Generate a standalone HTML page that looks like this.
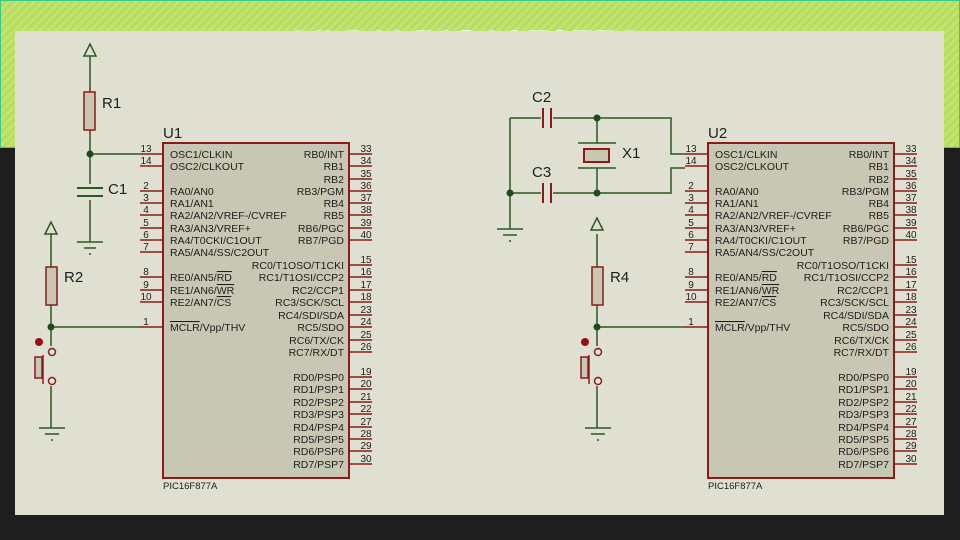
<!DOCTYPE html>
<html><head><meta charset="utf-8"><style>
html,body{margin:0;padding:0;width:960px;height:540px;overflow:hidden;background:#1e1e1e}
svg{display:block}
text{font-family:"Liberation Sans",sans-serif;fill:#1e1e1e}
</style></head><body>
<svg width="960" height="540" viewBox="0 0 960 540" xmlns="http://www.w3.org/2000/svg">
<defs>
<pattern id="st" width="6" height="6" patternUnits="userSpaceOnUse" patternTransform="rotate(45)">
<rect width="6" height="6" fill="#b6dc62"/><rect width="3" height="6" fill="#c2e470"/>
</pattern>
</defs>
<rect x="0" y="0" width="960" height="540" fill="#1e1e1e"/>
<rect x="0" y="0" width="960" height="148" fill="url(#st)"/>
<rect x="0.5" y="0.5" width="959" height="147" fill="none" stroke="#3cc88c" stroke-width="1"/>
<text x="470" y="58" font-size="40" font-weight="bold" text-anchor="middle" style="fill:#ffffff">VI ĐK PIC16F877A</text>
<rect x="15" y="31" width="929" height="484" fill="#dfdfd2"/>

<g stroke-width="1.5" fill="none">
<path d="M90 56 V88 M90 134 V154 H140 M90 154 V184 M90 200 V242" stroke="#2a5a22"/>
<path d="M90 88 V92 M90 130 V134" stroke="#8b1a1a"/>
<polygon points="90,44 84,56 96,56" stroke="#2a5a22"/>
<rect x="84" y="92" width="11" height="38" fill="#c9c7b2" stroke="#8b1a1a"/>
<path d="M77 188 H103 M77 196 H103" stroke="#2a5a22" stroke-width="2"/>
<path d="M77 242 H103 M84 248 H96" stroke="#2a5a22"/>
<path d="M89 254 H91" stroke="#2a5a22"/>
<path d="M51 234 V267 M51 305 V327 H140 M51 327 V346 M51 386 V428" stroke="#2a5a22"/>
<polygon points="51,222 45,234 57,234" stroke="#2a5a22"/>
<rect x="46" y="267" width="11" height="38" fill="#c9c7b2" stroke="#8b1a1a"/>
<circle cx="52" cy="352" r="3.5" stroke="#8b1a1a" fill="#e8e6da"/>
<circle cx="52" cy="381" r="3.5" stroke="#8b1a1a" fill="#e8e6da"/>
<path d="M43 355 V384" stroke="#8b1a1a"/>
<rect x="35" y="357" width="7" height="21" fill="#c9c7b2" stroke="#8b1a1a"/>
<path d="M39 428 H65 M45 434 H59 M51 440 H53" stroke="#2a5a22"/>

<path d="M510 118 V229 M510 118 H541 M553 118 H671 V154 H685 M597 118 V143 M597 168 V193 M510 193 H541 M553 193 H671 V168 H685" stroke="#2a5a22"/>
<path d="M543 108 V128 M551 108 V128 M543 183 V203 M551 183 V203" stroke="#8b1a1a" stroke-width="2"/>
<path d="M578 143 H616 M578 168 H616" stroke="#2a5a22" stroke-width="1.5"/>
<rect x="584" y="149" width="25" height="13" fill="#c9c7b2" stroke="#8b1a1a" stroke-width="2"/>
<path d="M497 229 H523 M503 235 H517 M509 241 H511" stroke="#2a5a22"/>
<path d="M597 234 V267 M597 305 V327 H685 M597 327 V346 M597 386 V428" stroke="#2a5a22"/>
<polygon points="597,218 591,230 603,230" stroke="#2a5a22"/>
<rect x="592" y="267" width="11" height="38" fill="#c9c7b2" stroke="#8b1a1a"/>
<circle cx="598" cy="352" r="3.5" stroke="#8b1a1a" fill="#e8e6da"/>
<circle cx="598" cy="381" r="3.5" stroke="#8b1a1a" fill="#e8e6da"/>
<path d="M589 355 V384" stroke="#8b1a1a"/>
<rect x="581" y="357" width="7" height="21" fill="#c9c7b2" stroke="#8b1a1a"/>
<path d="M585 428 H611 M591 434 H605 M597 440 H599" stroke="#2a5a22"/>
</g>
<g fill="#1f4a1a">
<circle cx="90" cy="154" r="3.5"/><circle cx="51" cy="327" r="3.5"/>
<circle cx="597" cy="118" r="3.5"/><circle cx="510" cy="193" r="3.5"/><circle cx="597" cy="193" r="3.5"/><circle cx="597" cy="327" r="3.5"/>
</g>
<circle cx="39" cy="342" r="4" fill="#9a1010"/><circle cx="585" cy="342" r="4" fill="#9a1010"/>

<g font-size="15">
<text x="102" y="108">R1</text><text x="108" y="194">C1</text><text x="64" y="282">R2</text>
<text x="532" y="102">C2</text><text x="532" y="177">C3</text><text x="622" y="158">X1</text><text x="610" y="282">R4</text>
<text x="163" y="138">U1</text><text x="708" y="138">U2</text>
</g>

<g>
<rect x="163" y="143" width="186" height="335" fill="#c8c7b3" stroke="#8b1a1a" stroke-width="2"/>
<g stroke="#8b1a1a" stroke-width="1.5">
<path d="M140 154H163M140 166H163M140 191H163M140 203H163M140 215H163M140 228H163M140 240H163M140 252H163M140 277H163M140 290H163M140 302H163M140 327H163"/>
<path d="M349 154H372M349 166H372M349 179H372M349 191H372M349 203H372M349 215H372M349 228H372M349 240H372M349 265H372M349 277H372M349 290H372M349 302H372M349 315H372M349 327H372M349 340H372M349 352H372M349 377H372M349 389H372M349 402H372M349 414H372M349 427H372M349 439H372M349 451H372M349 464H372"/>
</g>
<g font-size="10" text-anchor="middle">
<text x="146" y="152">13</text><text x="146" y="164">14</text><text x="146" y="189">2</text><text x="146" y="201">3</text><text x="146" y="213">4</text><text x="146" y="226">5</text><text x="146" y="238">6</text><text x="146" y="250">7</text><text x="146" y="275">8</text><text x="146" y="288">9</text><text x="146" y="300">10</text><text x="146" y="325">1</text>
<text x="366" y="152">33</text><text x="366" y="164">34</text><text x="366" y="177">35</text><text x="366" y="189">36</text><text x="366" y="201">37</text><text x="366" y="213">38</text><text x="366" y="226">39</text><text x="366" y="238">40</text><text x="366" y="263">15</text><text x="366" y="275">16</text><text x="366" y="288">17</text><text x="366" y="300">18</text><text x="366" y="313">23</text><text x="366" y="325">24</text><text x="366" y="338">25</text><text x="366" y="350">26</text><text x="366" y="375">19</text><text x="366" y="387">20</text><text x="366" y="400">21</text><text x="366" y="412">22</text><text x="366" y="425">27</text><text x="366" y="437">28</text><text x="366" y="449">29</text><text x="366" y="462">30</text>
</g>
<g font-size="10.5">
<text x="170" y="158">OSC1/CLKIN</text><text x="170" y="170">OSC2/CLKOUT</text><text x="170" y="195">RA0/AN0</text><text x="170" y="207">RA1/AN1</text><text x="170" y="219">RA2/AN2/VREF-/CVREF</text><text x="170" y="232">RA3/AN3/VREF+</text><text x="170" y="244">RA4/T0CKI/C1OUT</text><text x="170" y="256">RA5/AN4/SS/C2OUT</text><text x="170" y="281">RE0/AN5/<tspan text-decoration="overline">RD</tspan></text><text x="170" y="294">RE1/AN6/<tspan text-decoration="overline">WR</tspan></text><text x="170" y="306">RE2/AN7/<tspan text-decoration="overline">CS</tspan></text><text x="170" y="331"><tspan text-decoration="overline">MCLR</tspan>/Vpp/THV</text>
</g>
<g font-size="10.5" text-anchor="end">
<text x="344" y="158">RB0/INT</text><text x="344" y="170">RB1</text><text x="344" y="183">RB2</text><text x="344" y="195">RB3/PGM</text><text x="344" y="207">RB4</text><text x="344" y="219">RB5</text><text x="344" y="232">RB6/PGC</text><text x="344" y="244">RB7/PGD</text><text x="344" y="269">RC0/T1OSO/T1CKI</text><text x="344" y="281">RC1/T1OSI/CCP2</text><text x="344" y="294">RC2/CCP1</text><text x="344" y="306">RC3/SCK/SCL</text><text x="344" y="319">RC4/SDI/SDA</text><text x="344" y="331">RC5/SDO</text><text x="344" y="344">RC6/TX/CK</text><text x="344" y="356">RC7/RX/DT</text><text x="344" y="381">RD0/PSP0</text><text x="344" y="393">RD1/PSP1</text><text x="344" y="406">RD2/PSP2</text><text x="344" y="418">RD3/PSP3</text><text x="344" y="431">RD4/PSP4</text><text x="344" y="443">RD5/PSP5</text><text x="344" y="455">RD6/PSP6</text><text x="344" y="468">RD7/PSP7</text>
</g>
<text x="163" y="489" font-size="9.5">PIC16F877A</text>
</g>

<g transform="translate(545,0)">
<rect x="163" y="143" width="186" height="335" fill="#c8c7b3" stroke="#8b1a1a" stroke-width="2"/>
<g stroke="#8b1a1a" stroke-width="1.5">
<path d="M140 154H163M140 166H163M140 191H163M140 203H163M140 215H163M140 228H163M140 240H163M140 252H163M140 277H163M140 290H163M140 302H163M140 327H163"/>
<path d="M349 154H372M349 166H372M349 179H372M349 191H372M349 203H372M349 215H372M349 228H372M349 240H372M349 265H372M349 277H372M349 290H372M349 302H372M349 315H372M349 327H372M349 340H372M349 352H372M349 377H372M349 389H372M349 402H372M349 414H372M349 427H372M349 439H372M349 451H372M349 464H372"/>
</g>
<g font-size="10" text-anchor="middle">
<text x="146" y="152">13</text><text x="146" y="164">14</text><text x="146" y="189">2</text><text x="146" y="201">3</text><text x="146" y="213">4</text><text x="146" y="226">5</text><text x="146" y="238">6</text><text x="146" y="250">7</text><text x="146" y="275">8</text><text x="146" y="288">9</text><text x="146" y="300">10</text><text x="146" y="325">1</text>
<text x="366" y="152">33</text><text x="366" y="164">34</text><text x="366" y="177">35</text><text x="366" y="189">36</text><text x="366" y="201">37</text><text x="366" y="213">38</text><text x="366" y="226">39</text><text x="366" y="238">40</text><text x="366" y="263">15</text><text x="366" y="275">16</text><text x="366" y="288">17</text><text x="366" y="300">18</text><text x="366" y="313">23</text><text x="366" y="325">24</text><text x="366" y="338">25</text><text x="366" y="350">26</text><text x="366" y="375">19</text><text x="366" y="387">20</text><text x="366" y="400">21</text><text x="366" y="412">22</text><text x="366" y="425">27</text><text x="366" y="437">28</text><text x="366" y="449">29</text><text x="366" y="462">30</text>
</g>
<g font-size="10.5">
<text x="170" y="158">OSC1/CLKIN</text><text x="170" y="170">OSC2/CLKOUT</text><text x="170" y="195">RA0/AN0</text><text x="170" y="207">RA1/AN1</text><text x="170" y="219">RA2/AN2/VREF-/CVREF</text><text x="170" y="232">RA3/AN3/VREF+</text><text x="170" y="244">RA4/T0CKI/C1OUT</text><text x="170" y="256">RA5/AN4/SS/C2OUT</text><text x="170" y="281">RE0/AN5/<tspan text-decoration="overline">RD</tspan></text><text x="170" y="294">RE1/AN6/<tspan text-decoration="overline">WR</tspan></text><text x="170" y="306">RE2/AN7/<tspan text-decoration="overline">CS</tspan></text><text x="170" y="331"><tspan text-decoration="overline">MCLR</tspan>/Vpp/THV</text>
</g>
<g font-size="10.5" text-anchor="end">
<text x="344" y="158">RB0/INT</text><text x="344" y="170">RB1</text><text x="344" y="183">RB2</text><text x="344" y="195">RB3/PGM</text><text x="344" y="207">RB4</text><text x="344" y="219">RB5</text><text x="344" y="232">RB6/PGC</text><text x="344" y="244">RB7/PGD</text><text x="344" y="269">RC0/T1OSO/T1CKI</text><text x="344" y="281">RC1/T1OSI/CCP2</text><text x="344" y="294">RC2/CCP1</text><text x="344" y="306">RC3/SCK/SCL</text><text x="344" y="319">RC4/SDI/SDA</text><text x="344" y="331">RC5/SDO</text><text x="344" y="344">RC6/TX/CK</text><text x="344" y="356">RC7/RX/DT</text><text x="344" y="381">RD0/PSP0</text><text x="344" y="393">RD1/PSP1</text><text x="344" y="406">RD2/PSP2</text><text x="344" y="418">RD3/PSP3</text><text x="344" y="431">RD4/PSP4</text><text x="344" y="443">RD5/PSP5</text><text x="344" y="455">RD6/PSP6</text><text x="344" y="468">RD7/PSP7</text>
</g>
<text x="163" y="489" font-size="9.5">PIC16F877A</text>
</g>
</svg>
</body></html>
